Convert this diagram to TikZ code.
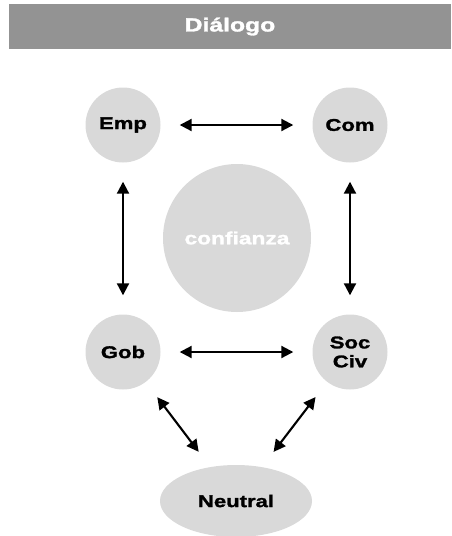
\documentclass[tikz,border=0pt]{standalone}
\usepackage{fontspec}
\newfontfamily\hv{Liberation Sans}[FakeStretch=1.3, BoldFeatures={FakeStretch=1.3, FakeBold=1.6}]
\usetikzlibrary{shapes.geometric,arrows.meta}
\definecolor{hdr}{HTML}{939393}
\definecolor{disc}{HTML}{D9D9D9}
\tikzset{
  actor/.style={circle, fill=disc, minimum size=75pt, inner sep=0pt, align=center,
    font=\hv\bfseries\fontsize{17}{19}\selectfont},
  link/.style={line width=2.1pt, {Triangle[length=12pt,width=12pt]}-{Triangle[length=12pt,width=12pt]},
    shorten <=19pt, shorten >=19pt}
}
\begin{document}
\begin{tikzpicture}[x=1pt,y=-1pt]
\useasboundingbox (0,0) rectangle (451,536);
\node[fill=hdr, minimum width=442pt, minimum height=45pt, inner sep=0pt,
  font=\hv\bfseries\fontsize{19}{21}\selectfont, text=white] (title) at (230,26.5) {Diálogo};
\node[circle, fill=disc, minimum size=148pt, inner sep=0pt, text=white,
  font=\hv\bfseries\fontsize{17.5}{19}\selectfont] (conf) at (237,238) {confianza};
\node[actor] (emp) at (123,125) {Emp};
\node[actor] (com) at (350,125) {Com};
\node[actor] (gob) at (123,352) {Gob};
\node[actor] (soc) at (350,352) {Soc\\Civ};
\node[ellipse, fill=disc, minimum width=152pt, minimum height=72pt, inner sep=0pt,
  font=\hv\bfseries\fontsize{17}{19}\selectfont] (neu) at (236,501) {Neutral};
\draw[link] (emp) -- (com);
\draw[link] (gob) -- (soc);
\draw[link] (emp) -- (gob);
\draw[link] (com) -- (soc);
\draw[link] (gob) -- (neu);
\draw[link] (soc) -- (neu);
\end{tikzpicture}
\end{document}
